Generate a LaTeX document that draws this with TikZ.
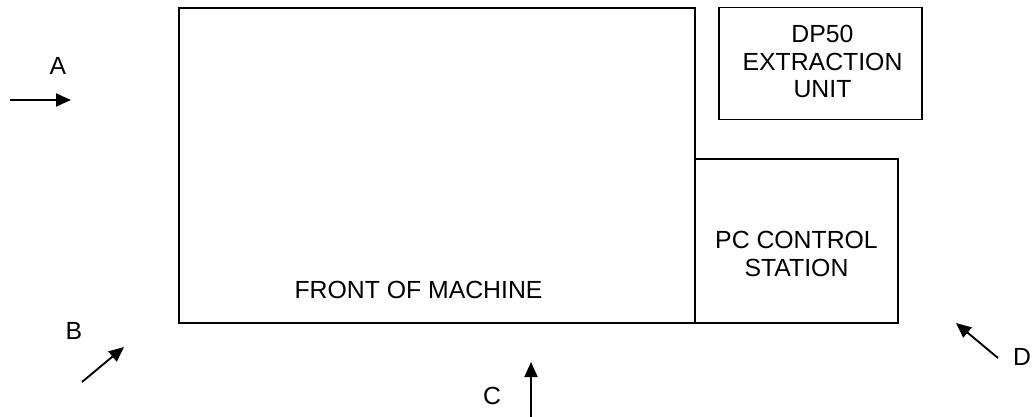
\documentclass[tikz,border=0pt]{standalone}
\usepackage{fontspec}
\setmainfont{Liberation Sans}
\usetikzlibrary{arrows.meta}
\begin{document}
\begin{tikzpicture}[x=1pt,y=-1pt,
  box/.style={draw,line width=1.4pt,inner sep=0pt},
  lbl/.style={font=\fontsize{24.8}{27.5}\selectfont,align=center,inner sep=0pt},
  arr/.style={line width=1.9pt,-{Triangle[length=15pt,width=13pt]}}]
\useasboundingbox (0,0) rectangle (1035,417);
\node[box,minimum width=516pt,minimum height=315pt] (main) at (437,165.5) {};
\node[box,minimum width=203pt,minimum height=164pt] (pc) at (796.5,241) {};
\node[box,minimum width=203pt,minimum height=112pt] (dp) at (820.5,63.5) {};
\node[lbl] (front) at (418.5,290) {FRONT OF MACHINE};
\node[lbl] (pct) at (796.5,254) {PC CONTROL\\STATION};
\node[lbl] (dpt) at (822.5,61.5) {DP50\\EXTRACTION\\UNIT};
\node[lbl] (la) at (58,66) {A};
\node[lbl] (lb) at (74,331) {B};
\node[lbl] (lc) at (492,396) {C};
\node[lbl] (ld) at (1022,357) {D};
\coordinate (a1) at (10,100); \coordinate (a2) at (71,100);
\coordinate (b1) at (82,382); \coordinate (b2) at (124,347);
\coordinate (c1) at (531,417); \coordinate (c2) at (531,362);
\coordinate (d1) at (998,358); \coordinate (d2) at (956,323);
\draw[arr] (a1) -- (a2);
\draw[arr] (b1) -- (b2);
\draw[arr] (c1) -- (c2);
\draw[arr] (d1) -- (d2);
\end{tikzpicture}
\end{document}
